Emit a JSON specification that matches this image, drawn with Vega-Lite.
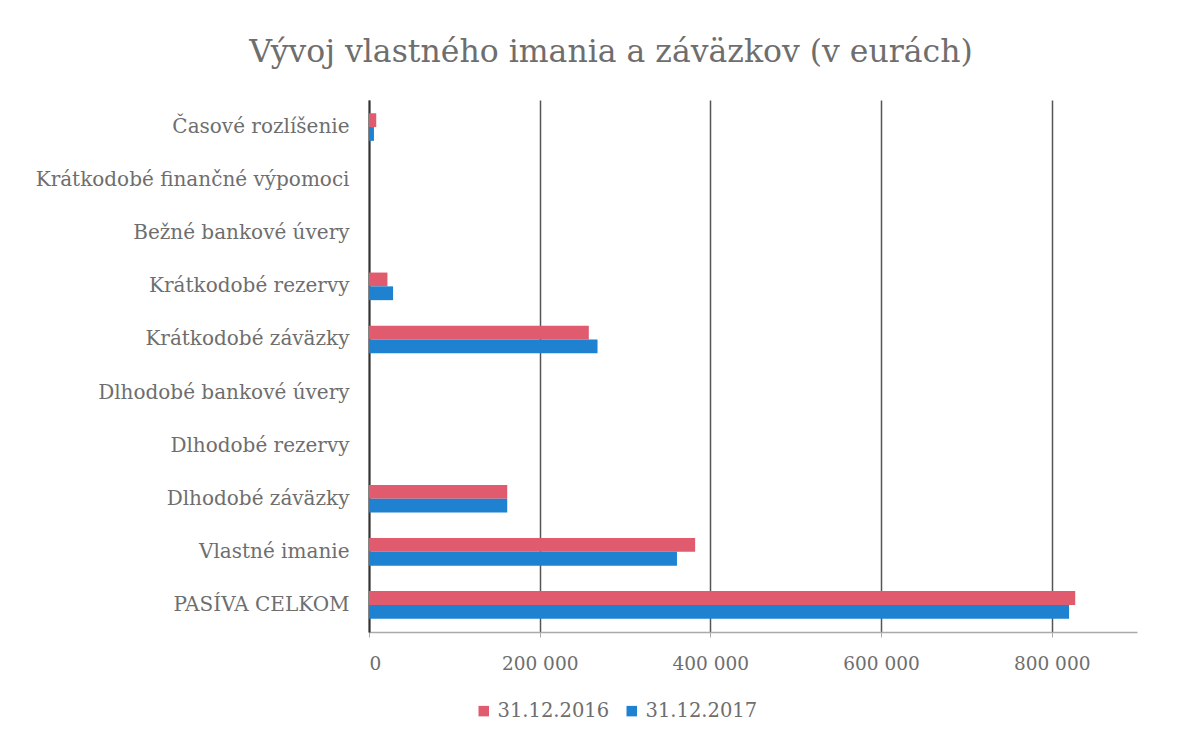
{
  "$schema": "https://vega.github.io/schema/vega-lite/v6.json",
  "autosize": {"type": "none"},
  "width": 768,
  "height": 532,
  "padding": {"left": 369, "top": 100, "right": 64, "bottom": 107},
  "background": "white",
  "title": {
    "text": "Vývoj vlastného imania a záväzkov (v eurách)",
    "font": "DejaVu Serif",
    "fontSize": 31.5,
    "fontWeight": "normal",
    "color": "#6e6e6e",
    "anchor": "middle",
    "frame": "group",
    "dx": -142,
    "offset": 32
  },
  "data": {
    "values": [
      {"polozka": "Časové rozlíšenie", "datum": "31.12.2016", "hodnota": 8500},
      {"polozka": "Časové rozlíšenie", "datum": "31.12.2017", "hodnota": 5800},
      {"polozka": "Krátkodobé finančné výpomoci", "datum": "31.12.2016", "hodnota": 0},
      {"polozka": "Krátkodobé finančné výpomoci", "datum": "31.12.2017", "hodnota": 0},
      {"polozka": "Bežné bankové úvery", "datum": "31.12.2016", "hodnota": 0},
      {"polozka": "Bežné bankové úvery", "datum": "31.12.2017", "hodnota": 0},
      {"polozka": "Krátkodobé rezervy", "datum": "31.12.2016", "hodnota": 21600},
      {"polozka": "Krátkodobé rezervy", "datum": "31.12.2017", "hodnota": 28200},
      {"polozka": "Krátkodobé záväzky", "datum": "31.12.2016", "hodnota": 257600},
      {"polozka": "Krátkodobé záväzky", "datum": "31.12.2017", "hodnota": 267800},
      {"polozka": "Dlhodobé bankové úvery", "datum": "31.12.2016", "hodnota": 0},
      {"polozka": "Dlhodobé bankové úvery", "datum": "31.12.2017", "hodnota": 0},
      {"polozka": "Dlhodobé rezervy", "datum": "31.12.2016", "hodnota": 0},
      {"polozka": "Dlhodobé rezervy", "datum": "31.12.2017", "hodnota": 0},
      {"polozka": "Dlhodobé záväzky", "datum": "31.12.2016", "hodnota": 162000},
      {"polozka": "Dlhodobé záväzky", "datum": "31.12.2017", "hodnota": 162000},
      {"polozka": "Vlastné imanie", "datum": "31.12.2016", "hodnota": 382200},
      {"polozka": "Vlastné imanie", "datum": "31.12.2017", "hodnota": 360900},
      {"polozka": "PASÍVA CELKOM", "datum": "31.12.2016", "hodnota": 827600},
      {"polozka": "PASÍVA CELKOM", "datum": "31.12.2017", "hodnota": 820400}
    ]
  },
  "mark": {"type": "bar"},
  "encoding": {
    "y": {
      "field": "polozka",
      "type": "nominal",
      "sort": null,
      "scale": {"paddingInner": 0.48, "paddingOuter": 0.25},
      "axis": {
        "title": null,
        "labelFont": "DejaVu Serif",
        "labelFontSize": 20,
        "labelColor": "#6e6e6e",
        "labelPadding": 20,
        "ticks": false,
        "domainColor": "#333333",
        "domainWidth": 2,
        "labelLimit": 400
      }
    },
    "yOffset": {"field": "datum", "type": "nominal", "sort": ["31.12.2016", "31.12.2017"]},
    "x": {
      "field": "hodnota",
      "type": "quantitative",
      "scale": {"domain": [0, 900000], "nice": false},
      "axis": {
        "title": null,
        "values": [0, 200000, 400000, 600000, 800000],
        "labelExpr": "replace(format(datum.value, ',d'), ',', ' ')",
        "labelFont": "DejaVu Serif",
        "labelFontSize": 18.5,
        "labelColor": "#6e6e6e",
        "labelPadding": 17,
        "ticks": true,
        "tickColor": "#aaaaaa",
        "tickSize": 5,
        "domainColor": "#aaaaaa",
        "domainWidth": 1.5,
        "grid": true,
        "gridColor": "#555555",
        "gridWidth": 1.5
      }
    },
    "color": {
      "field": "datum",
      "type": "nominal",
      "scale": {"domain": ["31.12.2016", "31.12.2017"], "range": ["#e05b6d", "#1f82d0"]},
      "legend": {
        "title": null,
        "orient": "none",
        "direction": "horizontal",
        "legendX": 105,
        "legendY": 601,
        "symbolType": "square",
        "symbolSize": 110,
        "symbolStrokeWidth": 0,
        "labelFont": "DejaVu Serif",
        "labelFontSize": 19.5,
        "labelColor": "#6e6e6e",
        "columnPadding": 12,
        "labelOffset": 4
      }
    }
  },
  "config": {"view": {"stroke": null}}
}
